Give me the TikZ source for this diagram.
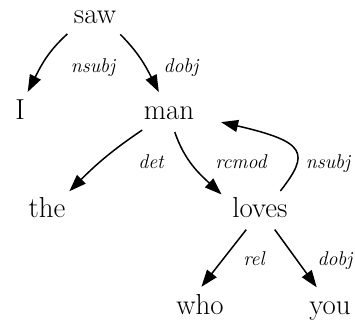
\documentclass[tikz,border=0pt]{standalone}
\usepackage{xcolor}
\definecolor{pInk}{HTML}{000000}
\usepackage{tikz}
\usetikzlibrary{arrows.meta, positioning, shapes.geometric}

\tikzset{
  word/.style={shape=ellipse, minimum width=120bp, minimum height=40bp, inner sep=0pt,
    text height=20bp, text depth=6bp, text=pInk, font=\fontsize{29}{32}\selectfont},
  deplabel/.style={anchor=base, inner sep=0pt, text=pInk,
    font=\fontsize{20}{22}\selectfont\itshape},
  dep/.style={draw=pInk, line width=1.5bp, -{Triangle[length=17bp,width=12bp]}}
}

\begin{document}
\begin{tikzpicture}[x=1bp, y=1bp]
\useasboundingbox (0,0) rectangle (355,324);

% words
\node[word] (saw)   at (95,308)  {saw};
\node[word] (I)     at (20,212)  {I};
\node[word] (man)   at (169,212) {man};
\node[word] (the)   at (47,114)  {the};
\node[word] (loves) at (260,114) {loves};
\node[word] (who)   at (200,17)  {who};
\node[word] (you)   at (330,17)  {you};

% arcs
\draw[dep] (saw.213) to[out=222, in=63] (I.69);
\draw[dep] (saw.324) to[out=315, in=117] (man.117);
\draw[dep] (man.214) to[out=214, in=45] (the.40);
\draw[dep] (man.286) to[out=289, in=137] (loves.158);
\draw[dep] (loves.43) to[out=52, in=347, out distance=48bp, in distance=88bp] (man.349);
\draw[dep] (loves.235) -- (who.86);
\draw[dep] (loves.307) -- (you.124);

% relation names
\node[deplabel] (nsubjA) at (93,252)  {nsubj};
\node[deplabel] (dobjA)  at (181,252) {dobj};
\node[deplabel] (det)    at (151,156) {det};
\node[deplabel] (rcmod)  at (241,156) {rcmod};
\node[deplabel] (nsubjB) at (328,156) {nsubj};
\node[deplabel] (rel)    at (254,59)  {rel};
\node[deplabel] (dobjB)  at (335,59)  {dobj};
\end{tikzpicture}
\end{document}
